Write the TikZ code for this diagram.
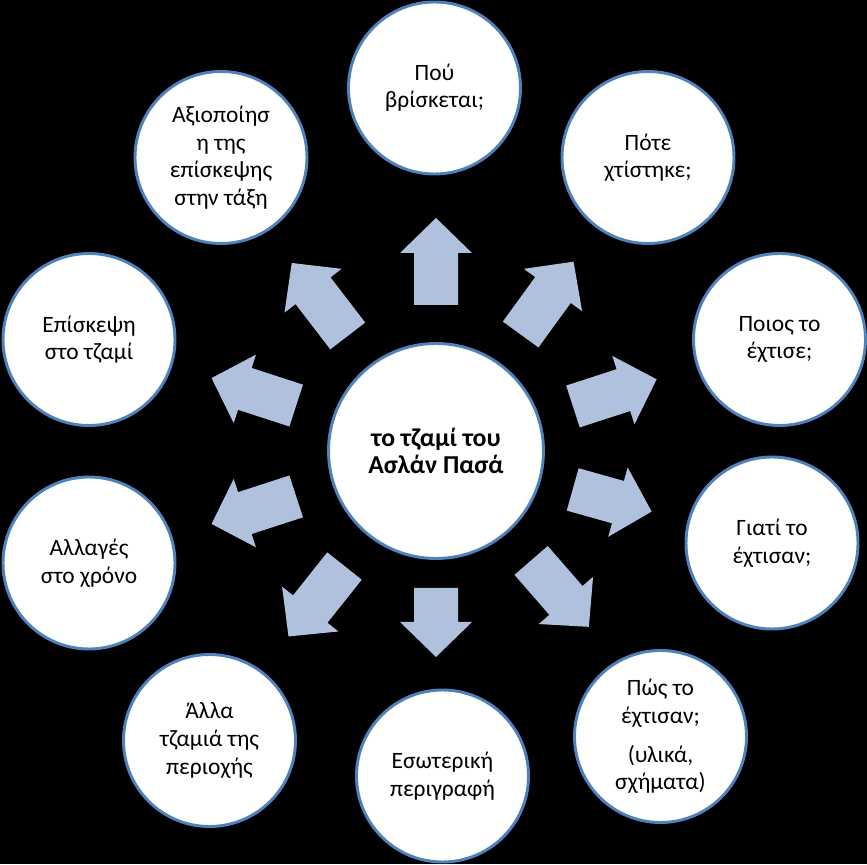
\documentclass[tikz,border=0pt]{standalone}
\usepackage{fontspec}
\setmainfont{Carlito}
\usepackage{tikz}
\usetikzlibrary{positioning}
\definecolor{circleBorder}{RGB}{79,129,189}
\definecolor{arrowFill}{RGB}{176,193,221}

\begin{document}
\begin{tikzpicture}
    \tikzstyle{every node} = [font=\fontsize{20}{23.5}\selectfont]
    \tikzstyle{topic} = [draw=circleBorder, line width=2.5pt, circle, fill=white, minimum size=5.16cm, inner sep=0pt, align=center]
    \tikzstyle{hub} = [topic, minimum size=6.45cm, font=\fontsize{22}{22.7}\selectfont\bfseries]
    \tikzstyle{blockArrow} = [fill=arrowFill]

    % background
    \fill[black] (0,0) rectangle (26.01,25.92);
    \useasboundingbox (0,0) rectangle (26.01,25.92);

    % place nodes
    \node[hub](mosque) at (13.08,12.39){το τζαμί του\\Ασλάν Πασά};
    \node[topic](whereIs) at (13.035,23.28){Πού\\βρίσκεται;};
    \node[topic](whenBuilt) at (19.44,21.195){Πότε\\χτίστηκε;};
    \node[topic](whoBuilt) at (23.385,15.735){Ποιος το\\έχτισε;};
    \node[topic](whyBuilt) at (23.16,9.63){Γιατί το\\έχτισαν;};
    \node[topic](howBuilt) at (19.815,3.825){Πώς το\\έχτισαν;\\[0.33cm](υλικά,\\σχήματα)};
    \node[topic](interior) at (13.275,2.64){Εσωτερική\\περιγραφή};
    \node[topic](otherMosques) at (6.285,3.705){Άλλα\\τζαμιά της\\περιοχής};
    \node[topic](changes) at (2.67,9.03){Αλλαγές\\στο χρόνο};
    \node[topic](visit) at (2.67,15.735){Επίσκεψη\\στο τζαμί};
    \node[topic](classUse) at (6.63,21.195){Αξιοποίησ\\η της\\επίσκεψης\\στην τάξη};

    % Arrows (angle/start/length)
    \foreach \ang/\dist/\len in {90/4.38/2.61, 54/4.32/2.70, 18/4.32/2.64, -15.7/4.26/2.46,
        -49/4.35/2.64, -90/4.11/2.07, -128.5/4.41/2.70, -162/4.41/2.67, 162/4.41/2.67, 127.5/4.35/2.76}
      \fill[blockArrow, shift={(mosque.center)}, rotate=\ang]
      (\dist,-0.66)--(\dist+\len-1.05,-0.66)--(\dist+\len-1.05,-1.08)--(\dist+\len,0)
      --(\dist+\len-1.05,1.08)--(\dist+\len-1.05,0.66)--(\dist,0.66)--cycle;

  \end{tikzpicture}
\end{document}
